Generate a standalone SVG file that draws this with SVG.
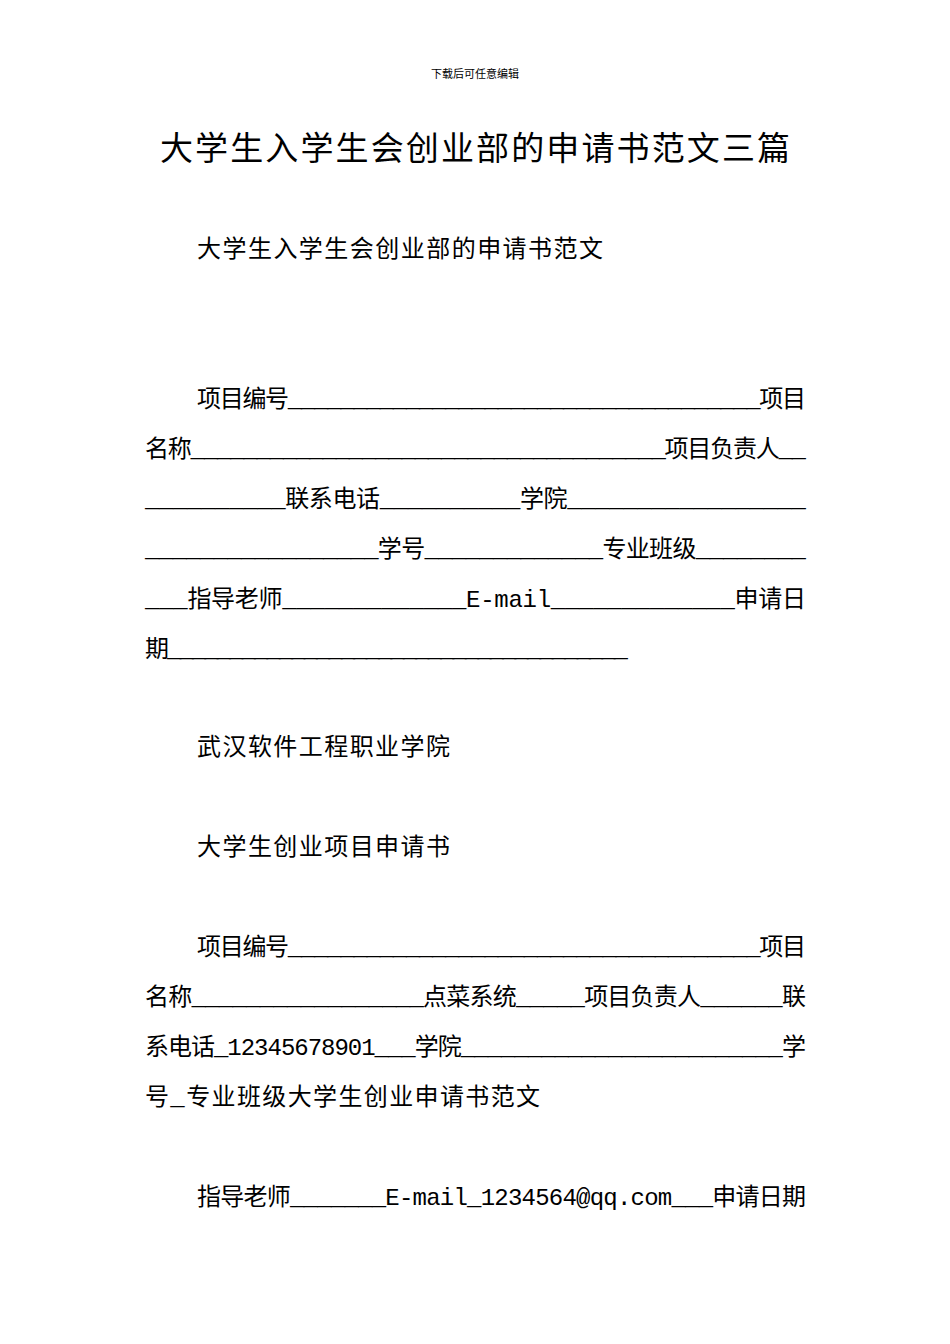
<svg xmlns="http://www.w3.org/2000/svg" width="950" height="1344" viewBox="0 0 950 1344">
<style>
text{font-family:"Liberation Serif","Noto Sans CJK SC",serif;fill:#000}
.b{font-size:24px;font-family:"Liberation Mono","Noto Sans CJK SC",monospace}
</style>
<rect width="950" height="1344" fill="#fff"/>
<g id="header"><text x="475" y="78" font-size="11" text-anchor="middle">下载后可任意编辑</text></g>
<g id="title"><text x="160" y="160" font-size="33" textLength="630" lengthAdjust="spacing">大学生入学生会创业部的申请书范文三篇</text></g>
<g id="body">
<text class="b" x="197" y="257" textLength="406" lengthAdjust="spacing">大学生入学生会创业部的申请书范文</text>
<text class="b" x="197" y="407" textLength="609" lengthAdjust="spacing">项目编号____________________________________项目</text>
<text class="b" x="145" y="457" textLength="661" lengthAdjust="spacing">名称____________________________________项目负责人__</text>
<text class="b" x="145" y="507" textLength="661" lengthAdjust="spacing">__________联系电话__________学院_________________</text>
<text class="b" x="145" y="557" textLength="661" lengthAdjust="spacing">_________________学号_____________专业班级________</text>
<text class="b" x="145" y="607" textLength="661" lengthAdjust="spacing">___指导老师_____________E-mail_____________申请日</text>
<text class="b" x="145" y="657" textLength="483" lengthAdjust="spacing">期_____________________________________</text>
<text class="b" x="197" y="755" textLength="253" lengthAdjust="spacing">武汉软件工程职业学院</text>
<text class="b" x="197" y="855" textLength="253" lengthAdjust="spacing">大学生创业项目申请书</text>
<text class="b" x="197" y="955" textLength="609" lengthAdjust="spacing">项目编号____________________________________项目</text>
<text class="b" x="145" y="1005" textLength="661" lengthAdjust="spacing">名称_________________点菜系统_____项目负责人______联</text>
<text class="b" x="145" y="1055" textLength="661" lengthAdjust="spacing">系电话_12345678901___学院________________________学</text>
<text class="b" x="145" y="1105" textLength="395" lengthAdjust="spacing">号_专业班级大学生创业申请书范文</text>
<text class="b" x="197" y="1205" textLength="609" lengthAdjust="spacing">指导老师_______E-mail_1234564@qq.com___申请日期</text>
</g>
</svg>
